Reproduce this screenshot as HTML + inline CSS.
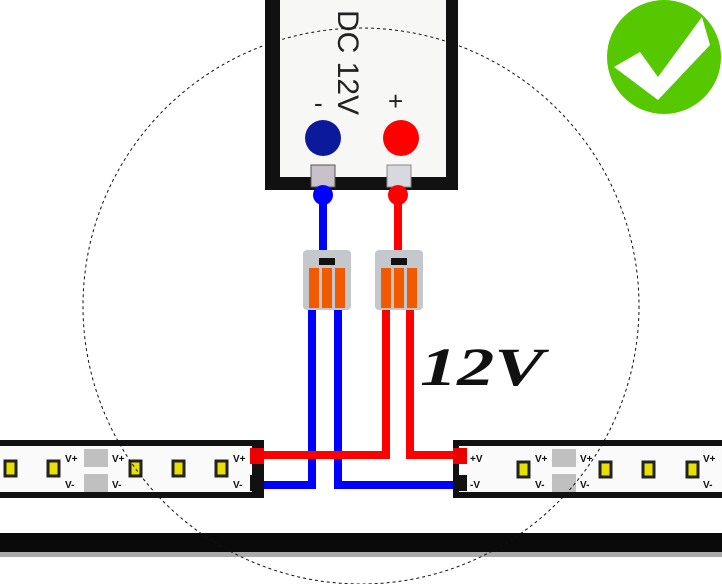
<!DOCTYPE html>
<html><head><style>body{margin:0;background:#fff}svg{display:block}</style></head><body>
<svg width="722" height="584" viewBox="0 0 722 584" xmlns="http://www.w3.org/2000/svg">
<rect width="722" height="584" fill="#fff"/>
<!-- power box -->
<rect x="265" y="-10" width="193" height="200" fill="#111"/>
<rect x="280" y="-5" width="166" height="182" fill="#f7f7f5"/>
<text transform="translate(338,10) rotate(90)" font-family="Liberation Sans,sans-serif" font-size="30" fill="#222">DC 12V</text>
<text x="314" y="112" font-family="Liberation Sans,sans-serif" font-size="26" fill="#222">-</text>
<text x="388" y="110" font-family="Liberation Sans,sans-serif" font-size="26" fill="#222">+</text>
<circle cx="323" cy="138" r="18" fill="#0a1a9a"/>
<circle cx="401" cy="138" r="18" fill="#f00"/>
<rect x="311" y="165" width="24" height="22" fill="#c8c0c8" stroke="#555" stroke-width="1"/>
<rect x="387" y="165" width="24" height="22" fill="#d8d8e0" stroke="#888" stroke-width="1"/>
<!-- wires -->
<g stroke-width="8" fill="none">
<path d="M323 195V255" stroke="#00f"/>
<path d="M398 195V255" stroke="#f00"/>
<path d="M312 305V485H262" stroke="#00f"/>
<path d="M338 305V485H458" stroke="#00f"/>
<path d="M386 305V455H262" stroke="#f00"/>
<path d="M410 305V455H458" stroke="#f00"/>
</g>
<circle cx="323" cy="195" r="10" fill="#00f"/>
<circle cx="398" cy="195" r="10" fill="#f00"/>
<!-- connectors -->
<g id="c">
<rect x="303" y="250" width="48" height="60" rx="4" fill="#c4c8cc"/>
<rect x="319" y="258" width="16" height="7" fill="#111"/>
<rect x="309" y="268" width="10" height="40" fill="#f25a00"/>
<rect x="322" y="268" width="10" height="40" fill="#f25a00"/>
<rect x="335" y="268" width="10" height="40" fill="#f25a00"/>
</g>
<use href="#c" x="72"/>
<text x="420" y="385" font-family="Liberation Serif,serif" font-style="italic" font-weight="bold" font-size="54" fill="#111" textLength="124" lengthAdjust="spacingAndGlyphs">12V</text>
<!-- left strip -->
<rect x="-5" y="440" width="269" height="58" fill="#111"/>
<rect x="-5" y="446" width="257" height="46" fill="#fafafa"/>
<rect x="250" y="448" width="14" height="16" fill="#e00"/>
<rect x="250" y="475" width="14" height="16" fill="#111"/>
<!-- right strip -->
<path d="M453 440H730V498H453Z M459 446V492H730V446Z" fill="#111" fill-rule="evenodd"/>
<rect x="459" y="446" width="270" height="46" fill="#fafafa"/>
<rect x="453" y="448" width="14" height="16" fill="#e00"/>
<rect x="453" y="475" width="14" height="16" fill="#111"/>
<g fill="#e8e000" stroke="#222" stroke-width="3">
<rect x="5" y="461" width="11" height="15"/><rect x="48" y="461" width="11" height="15"/>
<rect x="130" y="461" width="11" height="15"/><rect x="173" y="461" width="11" height="15"/><rect x="216" y="461" width="11" height="15"/>
<rect x="518" y="462" width="11" height="15"/>
<rect x="600" y="462" width="11" height="15"/><rect x="643" y="462" width="11" height="15"/><rect x="687" y="462" width="11" height="15"/>
</g>
<g fill="#c0c0c0"><rect x="84" y="449" width="24" height="18"/><rect x="84" y="474" width="24" height="18"/>
<rect x="552" y="449" width="24" height="18"/><rect x="552" y="474" width="24" height="18"/></g>
<g font-family="Liberation Sans,sans-serif" font-size="10" font-weight="bold" fill="#111">
<text x="65" y="462">V+</text><text x="65" y="488">V-</text><text x="112" y="462">V+</text><text x="112" y="488">V-</text>
<text x="233" y="462">V+</text><text x="233" y="488">V-</text>
<text x="535" y="462">V+</text><text x="535" y="488">V-</text><text x="580" y="462">V+</text><text x="580" y="488">V-</text>
<text x="470" y="462">+V</text><text x="470" y="488">-V</text><text x="703" y="462">V+</text><text x="703" y="488">V-</text>
</g>
<!-- bottom bar -->
<rect x="0" y="533" width="722" height="19" fill="#0a0a0a"/>
<rect x="0" y="552" width="722" height="5" fill="#aaa"/>
<!-- dashed circle -->
<circle cx="361" cy="306" r="278" fill="none" stroke="#111" stroke-width="1" stroke-dasharray="3 3"/>
<!-- check -->
<circle cx="664" cy="57" r="57" fill="#55c800"/>
<path d="M614 67L640 52L658 77L702 17L710 45L658 100Z" fill="#fff"/>
</svg>
</body></html>
